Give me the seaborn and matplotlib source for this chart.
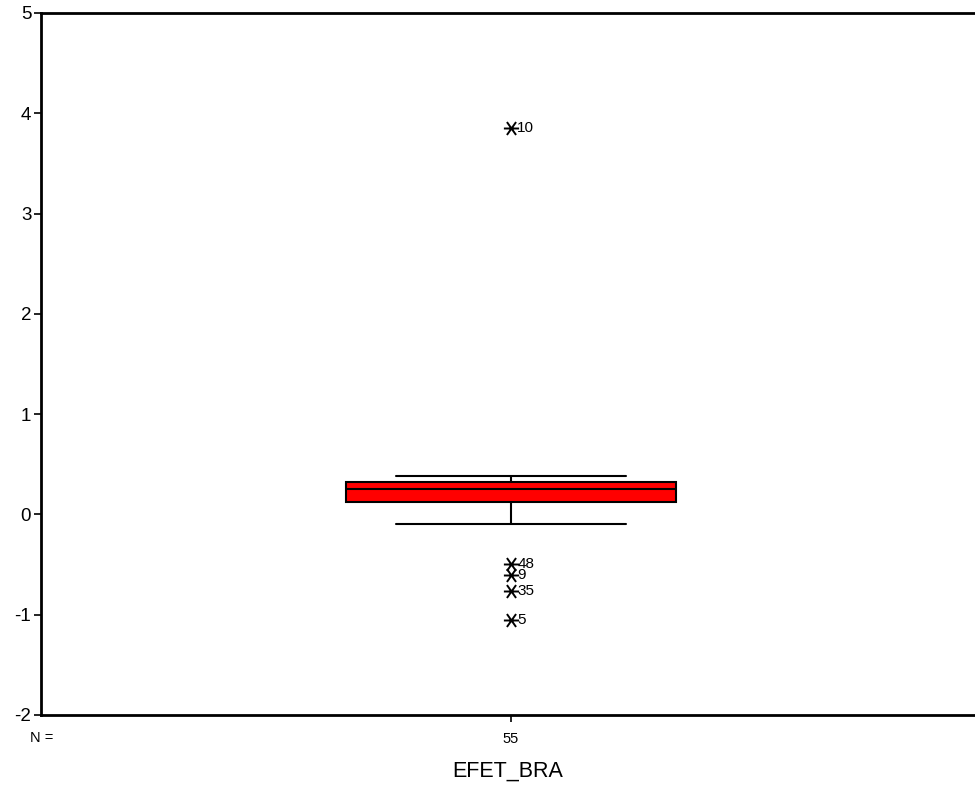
import numpy as np
import matplotlib
matplotlib.use("Agg")
import matplotlib.pyplot as plt
from matplotlib.path import Path
import pandas as pd
import seaborn as sns

# Summary statistics of the variable
variable = "EFET_BRA"
n_cases = 55
q1, median, q3 = 0.125, 0.254, 0.324
whisker_low, whisker_high = -0.095, 0.384

# Extreme cases (case number and value)
case_ids = [10, 48, 9, 35, 5]
case_values = [3.85, -0.49, -0.60, -0.76, -1.05]

y_ticks = [-2, -1, 0, 1, 2, 3, 4, 5]

sns.set_style("ticks")
plt.rcParams["font.family"] = ["Liberation Sans", "DejaVu Sans"]
plt.rcParams["text.color"] = "black"
plt.rcParams["xtick.color"] = "black"
plt.rcParams["ytick.color"] = "black"
plt.rcParams["axes.labelcolor"] = "black"

fig = plt.figure(figsize=(9.75, 7.91), dpi=100)
ax = fig.add_axes([0.042, 0.0961, 0.958, 0.8875])

stats = [{
    "med": median, "q1": q1, "q3": q3,
    "whislo": whisker_low, "whishi": whisker_high,
    "fliers": [], "label": variable,
}]
ax.bxp(stats, positions=[0], widths=0.354, patch_artist=True,
       showfliers=False,
       boxprops=dict(facecolor="#ff0000", edgecolor="black", linewidth=1.5),
       medianprops=dict(color="black", linewidth=1.5),
       whiskerprops=dict(color="black", linewidth=1.5),
       capprops=dict(color="black", linewidth=1.5),
       capwidths=0.247)

# SPSS-style asterisk: horizontal bar with two crossing diagonals
star = Path([(-1, 0), (1, 0), (-0.6, -0.85), (0.6, 0.85), (-0.6, 0.85), (0.6, -0.85)],
            [Path.MOVETO, Path.LINETO, Path.MOVETO, Path.LINETO, Path.MOVETO, Path.LINETO])

df = pd.DataFrame({"x": [0] * len(case_values), "value": case_values, "case": case_ids})
sns.scatterplot(data=df, x="x", y="value", marker=star, s=120, color="black",
                edgecolor="black", linewidth=1.4, ax=ax, legend=False, zorder=3)
for cid, val in zip(case_ids, case_values):
    ax.annotate(str(cid), (0, val), xytext=(4.5, 0), textcoords="offset points",
                ha="left", va="center", fontsize=11, color="black")

ax.set_xlim(-0.5032, 0.4968)
ax.set_ylim(-2, 5)
ax.set_yticks(y_ticks)
ax.set_yticklabels([str(t) for t in y_ticks], fontsize=13.5)
ax.set_xticks([0])
ax.set_xticklabels([str(n_cases)], fontsize=10.5)
ax.tick_params(axis="y", length=5, width=1.2, pad=2)
ax.tick_params(axis="x", length=5, width=1.2, pad=7)
ax.set_xlabel(variable, fontsize=15.5, labelpad=11)
ax.set_ylabel("")

for side in ["left", "bottom", "top"]:
    ax.spines[side].set_linewidth(2)
    ax.spines[side].set_color("black")
ax.spines["right"].set_visible(False)

fig.text(0.031, (791 - 738) / 791, "N =", fontsize=10.5, ha="left", va="center")

fig.savefig("out.png", dpi=100)
